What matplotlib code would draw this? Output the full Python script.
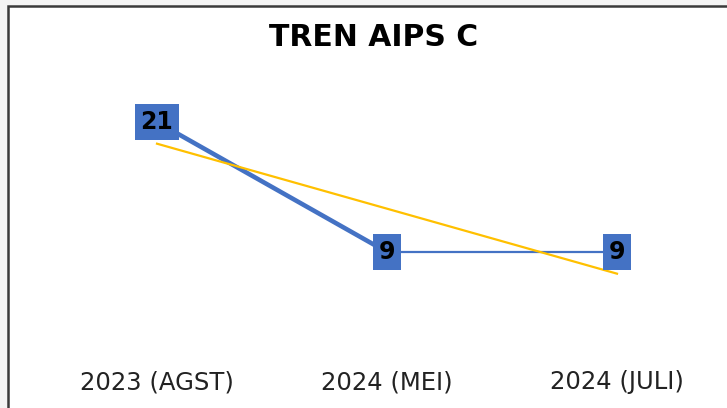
import matplotlib
matplotlib.use("Agg")
import matplotlib.pyplot as plt
import numpy as np
from matplotlib.patches import Rectangle

categories = ["2023 (AGST)", "2024 (MEI)", "2024 (JULI)"]
values = [21, 9, 9]
title = "TREN AIPS C"

W, H = 727, 408
fig = plt.figure(figsize=(W / 100, H / 100), dpi=100)
fig.patch.set_facecolor("#f4f4f4")

# chart frame (white with dark border on top/left)
frame = Rectangle((8 / W, -0.05), 1.1, (H - 6) / H + 0.05, transform=fig.transFigure,
                  facecolor="white", edgecolor="#3a3a3a", linewidth=1.8, zorder=-5)
fig.patches.append(frame)

ax = fig.add_axes([42 / W, 58.5 / H, 690 / W, 270.8 / H])
ax.set_zorder(2)
ax.set_facecolor("none")
for s in ax.spines.values():
    s.set_visible(False)

x = np.arange(len(values))
blue = "#4472C4"
# first segment thicker, second thinner
ax.plot(x[:2], values[:2], color=blue, lw=3.3, solid_capstyle="butt", zorder=2)
ax.plot(x[1:], values[1:], color=blue, lw=1.6, solid_capstyle="butt", zorder=2)

# linear trendline
coef = np.polyfit(x, values, 1)
ax.plot(x, np.polyval(coef, x), color="#FFC000", lw=1.6, zorder=3)

for xi, v in zip(x, values):
    ax.text(xi, v, str(v), ha="center", va="center", fontsize=17, fontweight="bold",
            family="DejaVu Sans", color="black", zorder=5,
            bbox=dict(boxstyle="square,pad=0.24", facecolor=blue, edgecolor="none"))

ax.set_xlim(-0.5, 2.5)
ax.set_ylim(0, 25)
ax.set_yticks([])
ax.set_xticks(x)
ax.set_xticklabels(categories, fontsize=17.5, family="DejaVu Sans", color="#222222")
ax.tick_params(axis="x", length=0, pad=15)

fig.text(374 / W, 1 - 38 / H, title, ha="center", va="center", fontsize=21.5,
         fontweight="bold", family="DejaVu Sans", color="black")

fig.savefig("out.png", dpi=100)
